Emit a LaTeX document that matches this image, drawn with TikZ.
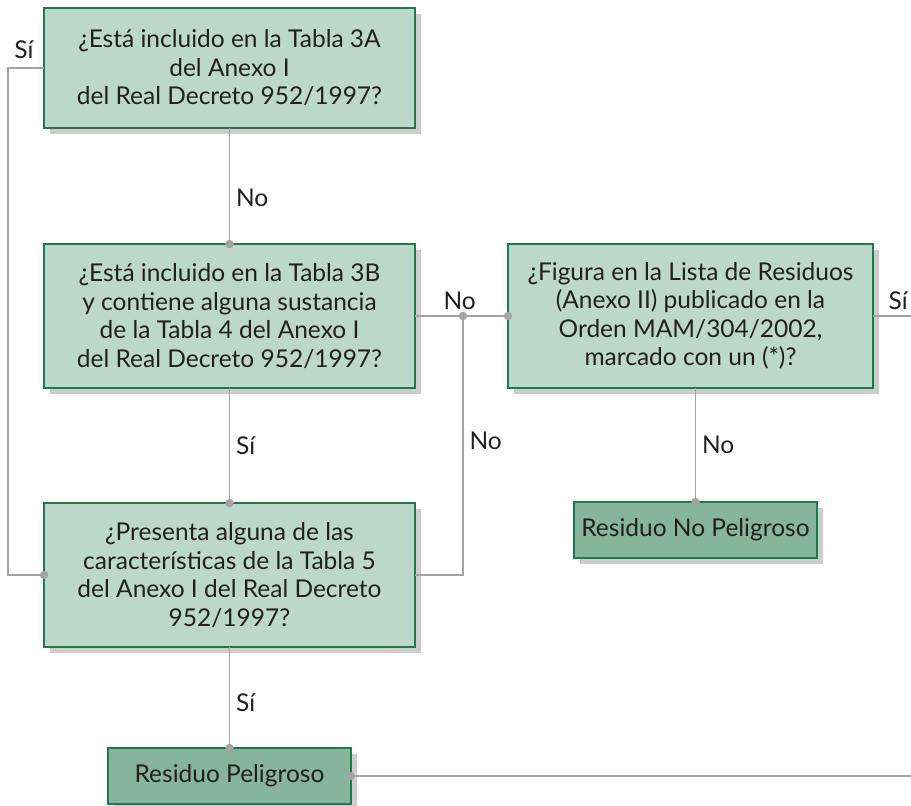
\documentclass[tikz,border=0pt]{standalone}
\usepackage{fontspec}
\setmainfont{Lato}
\usepackage{xcolor}
\usepackage{tikz}
\usetikzlibrary{shadows}
\usetikzlibrary{calc}
\usetikzlibrary{positioning}
\definecolor{box-fill}{HTML}{BCD8CA}
\definecolor{box-dark}{HTML}{86B59C}
\definecolor{box-edge}{HTML}{1F7A4A}
\definecolor{link-gray}{HTML}{A3A3A3}
\definecolor{text-ink}{HTML}{231F20}
\tikzset{every text node part/.style={align=center, font={\fontsize{24.5}{28.5}\selectfont}, text=text-ink}}
\tikzstyle{link} = [draw=link-gray, line width=1.2pt]
\tikzstyle{answer} = [inner sep=6pt]
\tikzstyle{join-dot} = [fill=link-gray]

\begin{document}
\begin{tikzpicture}[
        x=1pt, y=-1pt,
        question-block/.style={rectangle, draw=box-edge, fill=box-fill, line width=1.2pt, outer sep=0pt, minimum width=371pt, minimum height=144pt, drop shadow={shadow xshift=6pt, shadow yshift=-6pt, fill=black, opacity=0.2}},
        result-block/.style={rectangle, draw=box-edge, fill=box-dark, line width=1.2pt, outer sep=0pt, minimum width=243pt, minimum height=56pt, drop shadow={shadow xshift=6pt, shadow yshift=-6pt, fill=black, opacity=0.2}}
      ]
      \useasboundingbox (0,0) rectangle (911,806);
      \node[question-block, minimum height=120pt] (tabla3a) at (229.5,68) {¿Está incluido en la Tabla 3A\\del Anexo I\\del Real Decreto 952/1997?};
      \node[question-block]    (tabla3b)[below=116pt of tabla3a]    {¿Está incluido en la Tabla 3B\\y contiene alguna sustancia\\de la Tabla 4 del Anexo I\\del Real Decreto 952/1997?};
      \node[question-block]    (tabla5)[below=115pt of tabla3b]     {¿Presenta alguna de las\\características de la Tabla 5\\del Anexo I del Real Decreto\\952/1997?};
      \node[result-block]      (peligroso)[below=101pt of tabla5]   {Residuo Peligroso};
      \node[question-block, minimum width=365pt] (lista)[right=93pt of tabla3b] {¿Figura en la Lista de Residuos\\(Anexo II) publicado en la\\Orden MAM/304/2002,\\marcado con un (*)?};
      \node[result-block]      (nopeligroso)[below=114pt of lista, xshift=5pt] {Residuo No Peligroso};
      \coordinate (junction) at ($(tabla3b.east)+(48,0)$);
      \path (lista.east) ++(38,0) coordinate (lista-out);
      \path (peligroso.east) ++(560,0) coordinate (peligroso-out);
      % connectors
      \draw[link]   (tabla3a)       -- node[answer, right, pos=0.6] {No}    (tabla3b);
      \draw[link]   (tabla3b)       -- node[answer, right] {Sí}             (tabla5);
      \draw[link]   (tabla5)        -- node[answer, right, pos=0.55] {Sí}   (peligroso);
      \draw[link]   (tabla3a.west)  -- node[answer, above, pos=0.56, yshift=3pt] {Sí} ++(-36,0) |- (tabla5.west);
      \draw[link]   (tabla3b.east)  -- node[answer, above, pos=0.48] {No}   (lista.west);
      \draw[link]   (tabla5.east)   -| node[answer, right, pos=0.76] {No}   (junction);
      \draw[link]   (lista.east)    -- node[answer, above, pos=0.66] {Sí}   (lista-out);
      \draw[link]   (nopeligroso.north |- lista.south) -- node[answer, right] {No} (nopeligroso.north);
      \draw[link]   (peligroso.east) -- (peligroso-out);
      % dots
      \foreach \p in {tabla3b.north, tabla5.north, peligroso.north, tabla5.west, junction, lista.west, nopeligroso.north, peligroso.east}
        \fill[join-dot] (\p) circle (4.2pt);
    \end{tikzpicture}
\end{document}
